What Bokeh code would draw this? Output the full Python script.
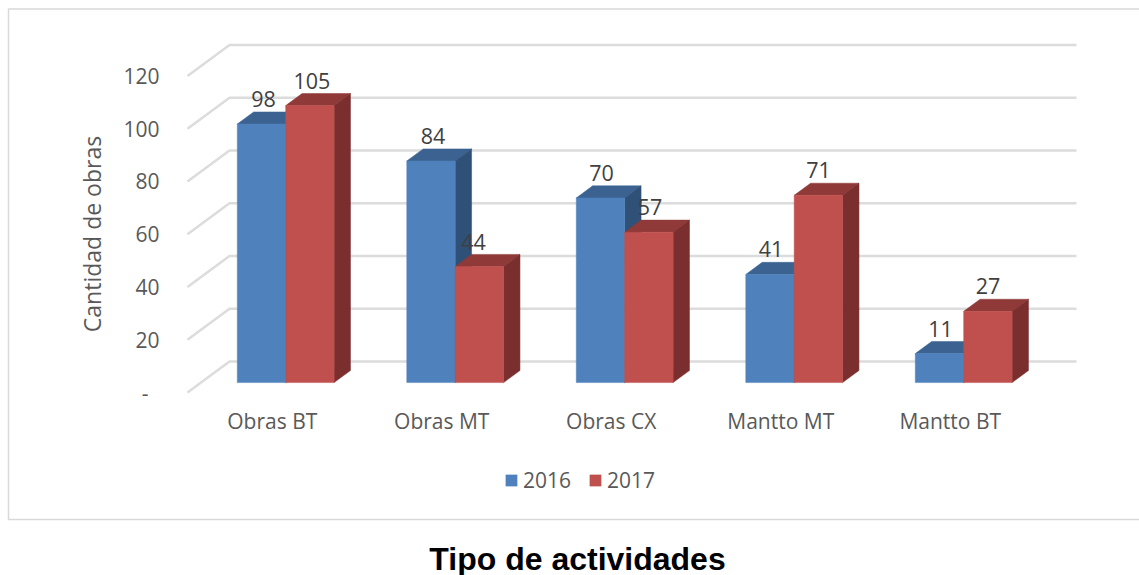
from bokeh.plotting import figure
from bokeh.models import Range1d, FixedTicker, Legend, LegendItem, Label
from bokeh.core.properties import value
from bokeh.embed import file_html
from bokeh.resources import INLINE

categories = ["Obras BT", "Obras MT", "Obras CX", "Mantto MT", "Mantto BT"]
series_2016 = [98, 84, 70, 41, 11]
series_2017 = [105, 44, 57, 71, 27]
y_ticks = [0, 20, 40, 60, 80, 100, 120]
y_tick_labels = ["-\u00a0\u00a0", "20", "40", "60", "80", "100", "120"]
y_title = "Cantidad de obras"
x_title = "Tipo de actividades"

# layout (pixels) and oblique projection
PX_CAT, PX_VAL = 169.5, 2.638
ORIGIN_X, ORIGIN_Y = 187, 392      # pixel of (first category edge, value 0)
WALL_RIGHT = 1076
DEPTH_X = 42 / PX_CAT
DEPTH_Y = 31 / PX_VAL
Z0, Z1 = 0.32, 0.71
BAR_W = 48.4 / PX_CAT
FIG_W, FIG_H = 1139, 575
NUDGE_2016 = [0, 0, -1, -1, -1]
NUDGE_2017 = [0, -8, -1, -2, -2]


def dx(px):
    return -0.5 + (px - ORIGIN_X) / PX_CAT


def dy(py):
    return (ORIGIN_Y - py) / PX_VAL


p = figure(width=FIG_W, height=FIG_H, output_backend="svg", toolbar_location=None,
           x_range=Range1d(dx(0), dx(FIG_W)), y_range=Range1d(dy(FIG_H), dy(0)),
           min_border_left=0, min_border_right=0, min_border_top=0, min_border_bottom=0,
           outline_line_color=None, background_fill_color="white", border_fill_color="white")
p.xgrid.visible = False
p.ygrid.visible = False

# outer chart frame (open on the right, beyond the picture)
p.line([dx(1145), dx(8), dx(8), dx(1145)], [dy(8.5), dy(8.5), dy(519), dy(519)],
       line_color="#d9d9d9", line_width=1.5)

# y axis
ax = p.yaxis[0]
ax.fixed_location = dx(ORIGIN_X)
ax.bounds = (-5, 125)
ax.ticker = FixedTicker(ticks=y_ticks)
ax.major_label_overrides = {t: l for t, l in zip(y_ticks, y_tick_labels)}
ax.axis_line_color = None
ax.major_tick_line_color = None
ax.minor_tick_line_color = None
ax.major_tick_out = 0
ax.major_tick_in = 0
ax.major_label_text_font = "Open Sans"
ax.major_label_text_font_size = "21px"
ax.major_label_text_color = "#595959"
ax.major_label_standoff = 28
ax.axis_label = y_title
ax.axis_label_text_font = "Open Sans"
ax.axis_label_text_font_size = "23px"
ax.axis_label_text_font_style = "normal"
ax.axis_label_text_color = "#595959"
ax.axis_label_standoff = 12

# x axis
xa = p.xaxis[0]
xa.fixed_location = 0
xa.ticker = FixedTicker(ticks=list(range(len(categories))))
xa.major_label_overrides = {i: c for i, c in enumerate(categories)}
xa.axis_line_color = None
xa.major_tick_line_color = None
xa.minor_tick_line_color = None
xa.major_tick_out = 0
xa.major_tick_in = 0
xa.major_label_text_font = "Open Sans"
xa.major_label_text_font_size = "21px"
xa.major_label_text_color = "#595959"
xa.major_label_standoff = 14

# wall gridlines
x0 = dx(ORIGIN_X)
x1 = dx(WALL_RIGHT)
p.multi_line(xs=[[x0, x0 + DEPTH_X, x1] for _ in y_ticks],
             ys=[[v, v + DEPTH_Y, v + DEPTH_Y] for v in y_ticks],
             line_color="#dcdcdc", line_width=2.5)


def faces(x_left, vals):
    fx = [x_left + i for i in range(len(vals))]
    xr = [x + BAR_W for x in fx]
    b0 = DEPTH_Y * Z0
    t = DEPTH_Y * (Z1 - Z0)
    d = DEPTH_X * (Z1 - Z0)
    front = dict(left=fx, right=xr, bottom=[b0] * len(vals), top=[v + b0 for v in vals])
    top_xs = [[x, x + d, r + d, r] for x, r in zip(fx, xr)]
    top_ys = [[v + b0, v + b0 + t, v + b0 + t, v + b0] for v in vals]
    side_xs = [[r, r + d, r + d, r] for r in xr]
    side_ys = [[b0, b0 + t, v + b0 + t, v + b0] for v in vals]
    return front, top_xs, top_ys, side_xs, side_ys


shift = DEPTH_X * Z0
items = []
for vals, offs, c_front, c_top, c_side, name in [
    (series_2016, -BAR_W, "#4f81bd", "#3b6290", "#2f5077", "2016"),
    (series_2017, 0, "#c0504d", "#8f3a39", "#7a2f2e", "2017"),
]:
    front, tx, ty, sx, sy = faces(shift + offs, vals)
    p.patches(tx, ty, fill_color=c_top, line_color=c_top, line_width=0.5)
    p.patches(sx, sy, fill_color=c_side, line_color=c_side, line_width=0.5)
    r = p.quad(fill_color=c_front, line_color=c_front, line_width=0.5, **front)
    items.append(LegendItem(label=name, renderers=[r]))

# data labels
for vals, offs, nudge in [(series_2016, -BAR_W / 2, NUDGE_2016), (series_2017, BAR_W / 2, NUDGE_2017)]:
    p.text(x=[i + shift + offs + 0.012 + n / PX_CAT for i, n in enumerate(nudge)],
           y=[v + DEPTH_Y * Z0 for v in vals], text=[str(v) for v in vals],
           text_font=value("Open Sans"), text_font_size="21.5px", text_color="#404040",
           text_align="center", text_baseline="middle", y_offset=-25)

leg = Legend(items=items, orientation="horizontal", location=(504, 81),
             glyph_width=14, glyph_height=14, label_text_font="Open Sans",
             label_text_font_size="21px", label_text_color="#595959",
             border_line_color=None, background_fill_alpha=0, padding=0, margin=0,
             spacing=17, label_standoff=5)
p.add_layout(leg, "center")

p.add_layout(Label(x=dx(577), y=dy(558), text=x_title, text_font="Liberation Sans",
                   text_font_size="32px", text_font_style="bold", text_color="black",
                   text_align="center", text_baseline="middle"))

open("out.html", "w").write(file_html(p, INLINE))
